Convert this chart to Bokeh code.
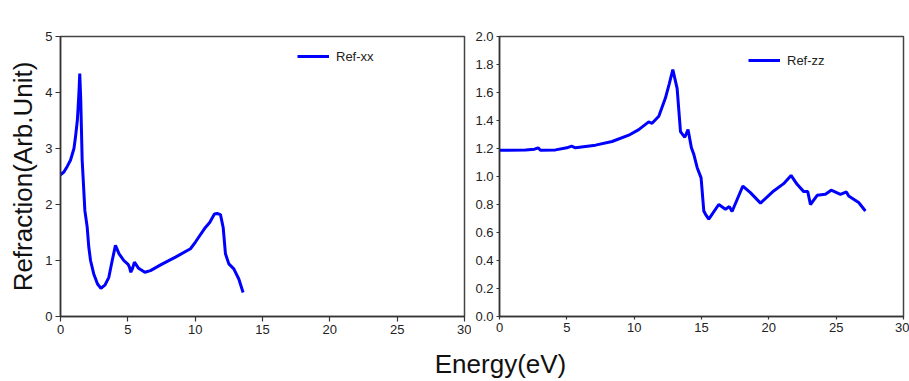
from bokeh.plotting import figure
from bokeh.layouts import row, column
from bokeh.models import FixedTicker, NumeralTickFormatter
from bokeh.core.properties import value
from bokeh.embed import file_html
from bokeh.resources import INLINE

# ---- data ----
xx_energy = [0, 0.25, 0.5, 0.74, 1.0, 1.11, 1.25, 1.31, 1.38, 1.43, 1.5, 1.61, 1.81, 1.98,
             2.1, 2.23, 2.47, 2.75, 3.0, 3.3, 3.59, 3.84, 4.08, 4.35, 4.7, 5.02, 5.12, 5.22,
             5.35, 5.49, 5.8, 6.26, 6.68, 7.5, 8.54, 9.65, 10.02, 10.76, 11.08, 11.43, 11.63,
             11.88, 12.08, 12.25, 12.5, 12.87, 13.24, 13.56]
xx_refr = [2.53, 2.58, 2.68, 2.79, 3.0, 3.2, 3.5, 3.74, 4.05, 4.34, 3.9, 2.79, 1.89, 1.6,
           1.24, 1.0, 0.76, 0.58, 0.505, 0.56, 0.70, 1.0, 1.27, 1.12, 1.0, 0.93, 0.88, 0.79,
           0.86, 0.97, 0.86, 0.79, 0.82, 0.93, 1.06, 1.21, 1.33, 1.59, 1.68, 1.83, 1.84,
           1.82, 1.59, 1.12, 0.94, 0.85, 0.67, 0.43]

zz_energy = [0, 1.93, 2.6, 2.87, 3.04, 4.16, 5.0, 5.35, 5.64, 7.13, 8.36, 9.6, 10.34, 11.08,
             11.33, 11.83, 12.32, 12.6, 12.87, 13.19, 13.44, 13.76, 14.0, 14.25, 14.43, 14.68,
             14.97, 15.17, 15.3, 15.54, 16.28, 16.78, 17.07, 17.27, 18.07, 18.63, 19.38, 20.36,
             21.1, 21.65, 22.1, 22.59, 22.89, 23.09, 23.59, 24.2, 24.63, 25.32, 25.76, 25.93,
             26.67, 27.17]
zz_refr = [1.187, 1.19, 1.195, 1.205, 1.187, 1.19, 1.205, 1.217, 1.205, 1.224, 1.25, 1.295,
           1.335, 1.39, 1.38, 1.43, 1.56, 1.66, 1.763, 1.63, 1.32, 1.28, 1.336, 1.205, 1.158,
           1.063, 0.99, 0.754, 0.73, 0.695, 0.80, 0.766, 0.785, 0.75, 0.932, 0.885, 0.81,
           0.897, 0.949, 1.008, 0.944, 0.892, 0.892, 0.80, 0.866, 0.873, 0.902, 0.873, 0.89,
           0.861, 0.814, 0.754]

x_ticks = [0, 5, 10, 15, 20, 25, 30]
left_y_ticks = [0, 1, 2, 3, 4, 5]
right_y_ticks = [0.0, 0.2, 0.4, 0.6, 0.8, 1.0, 1.2, 1.4, 1.6, 1.8, 2.0]

FONT = "Liberation Sans"
BLUE = "#0000ff"
AX = "#333333"


def style(p, yticks, tick_len):
    p.xgrid.visible = False
    p.ygrid.visible = False
    p.outline_line_color = "#444444"
    p.outline_line_width = 1.5
    p.xaxis.ticker = FixedTicker(ticks=x_ticks)
    p.yaxis.ticker = FixedTicker(ticks=yticks)
    for ax in (p.xaxis[0], p.yaxis[0]):
        ax.axis_line_color = AX
        ax.axis_line_width = 1.5
        ax.major_tick_line_color = AX
        ax.major_tick_line_width = 1.2
        ax.major_tick_out = tick_len
        ax.major_tick_in = 0
        ax.minor_tick_line_color = None
        ax.major_label_text_font = FONT
        ax.major_label_text_font_size = "13px"
        ax.major_label_text_color = "#222222"
        ax.major_label_standoff = 3
    p.border_fill_color = "white"
    p.background_fill_color = "white"


H = 345
p1 = figure(width=471, height=H, x_range=(0, 30), y_range=(0, 5),
            output_backend="svg", toolbar_location=None,
            min_border_left=60, min_border_right=7, min_border_top=36, min_border_bottom=29)
style(p1, left_y_ticks, 5)
p1.yaxis.axis_label = "Refraction(Arb.Unit)"
p1.yaxis.axis_label_text_font = FONT
p1.yaxis.axis_label_text_font_size = "26px"
p1.yaxis.axis_label_text_font_style = "normal"
p1.yaxis.axis_label_text_color = "#111111"
p1.yaxis.axis_label_standoff = 4
p1.line(xx_energy, xx_refr, line_color=BLUE, line_width=3, legend_label="Ref-xx")

p2 = figure(width=438, height=H, x_range=(0, 30), y_range=(0, 2.0),
            output_backend="svg", toolbar_location=None,
            min_border_left=28, min_border_right=6, min_border_top=36, min_border_bottom=29)
style(p2, right_y_ticks, 3)
p2.yaxis.formatter = NumeralTickFormatter(format="0.0")
p2.line(zz_energy, zz_refr, line_color=BLUE, line_width=3, legend_label="Ref-zz")

for p, loc in ((p1, (237, 250)), (p2, (249, 246))):
    lg = p.legend[0]
    lg.location = loc
    lg.border_line_color = None
    lg.background_fill_alpha = 0
    lg.padding = 0
    lg.margin = 0
    lg.glyph_width = 32
    lg.glyph_height = 20
    lg.label_height = 20
    lg.label_standoff = 7
    lg.label_text_font = FONT
    lg.label_text_font_size = "13px"
    lg.label_text_color = "#222222"

p3 = figure(width=909, height=36, x_range=(0, 909), y_range=(0, 36),
            output_backend="svg", toolbar_location=None, min_border=0)
p3.axis.visible = False
p3.xgrid.visible = False
p3.ygrid.visible = False
p3.outline_line_color = None
p3.text(x=[500], y=[18], text=["Energy(eV)"], text_font=value(FONT),
        text_font_size="26px", text_align="center", text_baseline="middle",
        text_color="#111111")

layout = column(row(p1, p2), p3)
open("out.html", "w").write(file_html(layout, INLINE))
